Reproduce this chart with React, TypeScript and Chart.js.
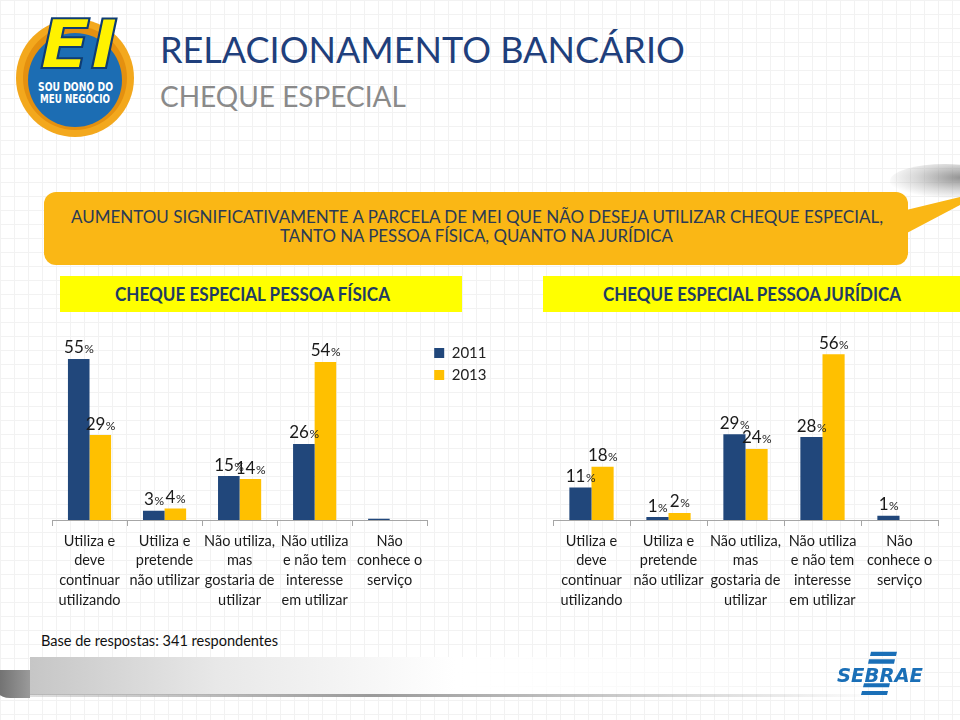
import React, { useEffect, useLayoutEffect, useRef } from "react";
import { Chart, registerables } from "chart.js";

Chart.register(...registerables);

// ---------- DATA ----------
const categories: string[][] = [
  ["Utiliza e", "deve", "continuar", "utilizando"],
  ["Utiliza e", "pretende", "não utilizar"],
  ["Não utiliza,", "mas", "gostaria de", "utilizar"],
  ["Não utiliza", "e não tem", "interesse", "em utilizar"],
  ["Não", "conhece o", "serviço"],
];
const seriesLabels = ["2011", "2013"];
const pfValues2011 = [55, 3.2, 15, 26, 0.4];
const pfValues2013 = [29, 3.9, 14, 54, 0];
const pjValues2011 = [11, 1, 29, 28, 1.4];
const pjValues2013 = [18, 2.4, 24, 56, 0];

const BLUE = "#21477B";
const ORANGE = "#FFC000";
const FONT = "Lato";

const valueLabelPlugin = {
  id: "valueLabels",
  afterDatasetsDraw(chart: any) {
    const ctx = chart.ctx;
    chart.data.datasets.forEach((ds: any, di: number) => {
      const meta = chart.getDatasetMeta(di);
      meta.data.forEach((bar: any, i: number) => {
        const v = ds.data[i];
        if (v == null || v < 0.5) return;
        const num = String(Math.round(v));
        ctx.save();
        ctx.fillStyle = "#1a1a1a";
        ctx.textBaseline = "alphabetic";
        ctx.font = `17px ${FONT}`;
        const w1 = ctx.measureText(num).width;
        ctx.font = `12px ${FONT}`;
        const w2 = ctx.measureText("%").width;
        const x0 = bar.x - (w1 + w2) / 2;
        const y = bar.y - 5.5;
        ctx.font = `17px ${FONT}`;
        ctx.textAlign = "left";
        ctx.fillText(num, x0, y);
        ctx.font = `12px ${FONT}`;
        ctx.fillText("%", x0 + w1 + 0.5, y);
        ctx.restore();
      });
    });
  },
};

function makeConfig(v11: number[], v13: number[], yMax: number, padding: any, showLegend: boolean): any {
  return {
    type: "bar",
    data: {
      labels: categories,
      datasets: [
        { label: seriesLabels[0], data: v11, backgroundColor: BLUE, categoryPercentage: 0.575, barPercentage: 1 },
        { label: seriesLabels[1], data: v13, backgroundColor: ORANGE, categoryPercentage: 0.575, barPercentage: 1 },
      ],
    },
    options: {
      responsive: false,
      animation: false,
      layout: { padding },
      plugins: {
        legend: {
          display: showLegend,
          position: "right",
          align: "start",
          labels: {
            boxWidth: 10,
            boxHeight: 10,
            padding: 7,
            color: "#222",
            font: { size: 15, family: FONT },
          },
        },
        tooltip: { enabled: false },
      },
      scales: {
        x: {
          grid: {
            display: true,
            drawOnChartArea: false,
            drawTicks: true,
            tickLength: 6,
            color: "#a6a6a6",
            offset: true,
          },
          border: { display: true, color: "#a6a6a6" },
          ticks: {
            color: "#1a1a1a",
            font: { size: 14.5, family: FONT, lineHeight: 1.36 },
            padding: 5,
            maxRotation: 0,
            autoSkip: false,
          },
          afterFit: (s: any) => {
            s.height = 95;
          },
        },
        y: { display: false, min: 0, max: yMax },
      },
    },
    plugins: [valueLabelPlugin],
  };
}

function BarChart(props: { left: number; top: number; width: number; height: number; config: any }) {
  const ref = useRef<HTMLCanvasElement>(null);
  useEffect(() => {
    if (!ref.current) return;
    const chart = new Chart(ref.current, props.config);
    return () => chart.destroy();
  }, []);
  return (
    <canvas
      ref={ref}
      width={props.width}
      height={props.height}
      style={{ position: "absolute", left: props.left, top: props.top, width: props.width, height: props.height }}
    />
  );
}

function FitText(props: {
  text: string;
  x: number;
  baseline: number;
  width: number;
  size: number;
  color: string;
  weight?: number;
}) {
  const ref = useRef<HTMLSpanElement>(null);
  useLayoutEffect(() => {
    const el = ref.current;
    if (!el) return;
    el.style.transform = "none";
    const w = el.getBoundingClientRect().width;
    if (w > 0) el.style.transform = `scaleX(${props.width / w})`;
  });
  return (
    <span
      ref={ref}
      style={{
        position: "absolute",
        left: props.x,
        top: props.baseline - 0.887 * props.size,
        whiteSpace: "nowrap",
        fontFamily: FONT,
        fontSize: props.size,
        lineHeight: `${props.size}px`,
        fontWeight: props.weight ?? 400,
        color: props.color,
        transformOrigin: "0 0",
      }}
    >
      {props.text}
    </span>
  );
}

export default function App() {
  return (
    <div
      style={{
        position: "absolute",
        left: 0,
        top: 0,
        width: 960,
        height: 720,
        overflow: "hidden",
        background: "#fff",
        backgroundImage:
          "linear-gradient(#f2f2f2 1px, transparent 1px), linear-gradient(90deg, #f2f2f2 1px, transparent 1px)",
        backgroundSize: "14px 14px",
        fontFamily: FONT,
      }}
    >
      {/* Logo top-left */}
      <svg style={{ position: "absolute", left: 0, top: 0 }} width={150} height={145}>
        <circle cx={75} cy={78} r={59} fill="#F3A81D" />
        <circle cx={75} cy={78} r={52} fill="#E4900F" />
        <circle cx={75} cy={80} r={47} fill="#1C6DB3" />
        <text
          x={40}
          y={68}
          fontFamily="DejaVu Sans"
          fontWeight="bold"
          fontStyle="italic"
          fontSize={68}
          fill="#FFF200"
          stroke="#0E3C74"
          strokeWidth={2}
          textLength={78}
          lengthAdjust="spacingAndGlyphs"
        >
          EI
        </text>
        <text x={38} y={91} fontFamily="DejaVu Sans" fontWeight="bold" fontSize={12} fill="#fff" textLength={75} lengthAdjust="spacingAndGlyphs">
          SOU DONO DO
        </text>
        <text x={40} y={103} fontFamily="DejaVu Sans" fontWeight="bold" fontSize={12} fill="#fff" textLength={70} lengthAdjust="spacingAndGlyphs">
          MEU NEGÓCIO
        </text>
      </svg>

      {/* Titles */}
      <span
        style={{
          position: "absolute",
          left: 160,
          top: 63 - 0.887 * 36,
          fontSize: 36,
          lineHeight: "36px",
          color: "#1F3F7C",
          whiteSpace: "nowrap",
        }}
      >
        RELACIONAMENTO BANCÁRIO
      </span>
      <span
        style={{
          position: "absolute",
          left: 160,
          top: 106.5 - 0.887 * 28,
          fontSize: 28,
          lineHeight: "28px",
          color: "#8A8A8A",
          whiteSpace: "nowrap",
        }}
      >
        CHEQUE ESPECIAL
      </span>

      {/* Top-right shadow */}
      <div
        style={{
          position: "absolute",
          left: 890,
          top: 164,
          width: 110,
          height: 34,
          borderRadius: "50%",
          background: "radial-gradient(ellipse at 65% 40%, rgba(120,120,120,0.8) 0%, rgba(170,170,170,0.45) 45%, rgba(255,255,255,0) 75%)",
        }}
      />

      {/* Banner */}
      <svg style={{ position: "absolute", left: 0, top: 0 }} width={960} height={300}>
        <polygon points="898,212 960,197 960,205 905,234" fill="#FAB715" />
      </svg>
      <div
        style={{
          position: "absolute",
          left: 44,
          top: 192,
          width: 864,
          height: 73,
          borderRadius: 12,
          background: "#FAB715",
        }}
      />
      <FitText
        text="AUMENTOU SIGNIFICATIVAMENTE A PARCELA DE MEI QUE NÃO DESEJA UTILIZAR CHEQUE ESPECIAL,"
        x={70.7}
        baseline={223.3}
        width={812}
        size={17}
        color="#2A3A55"
      />
      <FitText
        text="TANTO NA PESSOA FÍSICA, QUANTO NA JURÍDICA"
        x={280}
        baseline={241.7}
        width={393}
        size={17}
        color="#2A3A55"
      />

      {/* Header boxes */}
      <div style={{ position: "absolute", left: 60, top: 276, width: 402, height: 36, background: "#FFFF00" }} />
      <div style={{ position: "absolute", left: 543, top: 276, width: 417, height: 36, background: "#FFFF00" }} />
      <FitText text="CHEQUE ESPECIAL PESSOA FÍSICA" x={115} baseline={301.7} width={275} size={18.6} weight={700} color="#1F3B63" />
      <FitText text="CHEQUE ESPECIAL PESSOA JURÍDICA" x={602.5} baseline={301.7} width={298} size={18.6} weight={700} color="#1F3B63" />

      {/* Charts */}
      <BarChart
        left={40}
        top={320}
        width={460}
        height={300}
        config={makeConfig(pfValues2011, pfValues2013, 62, { left: 12, right: 3.5, top: 18.5, bottom: 5 }, true)}
      />
      <BarChart
        left={520}
        top={320}
        width={440}
        height={300}
        config={makeConfig(pjValues2011, pjValues2013, 61.3, { left: 33, right: 22, top: 18.5, bottom: 5 }, false)}
      />

      {/* Footnote */}
      <FitText text="Base de respostas: 341 respondentes" x={40.7} baseline={646.7} width={237} size={15.5} color="#111" />

      {/* Bottom decoration */}
      <div
        style={{
          position: "absolute",
          left: 30,
          top: 657,
          width: 850,
          height: 38,
          background: "linear-gradient(to right, #c6c6c6 0%, #e8e8e8 22%, #ffffff 50%, rgba(255,255,255,0) 100%)",
        }}
      />
      <div
        style={{
          position: "absolute",
          left: 30,
          top: 694,
          width: 850,
          height: 3,
          background: "linear-gradient(to right, rgba(150,150,150,0.3), #9a9a9a 40%, rgba(190,190,190,0.4) 85%, rgba(255,255,255,0))",
        }}
      />
      <div
        style={{
          position: "absolute",
          left: -10,
          top: 670,
          width: 40,
          height: 28,
          borderRadius: "0 0 0 20px",
          background: "linear-gradient(to right, #666, #9a9a9a)",
        }}
      />

      {/* SEBRAE logo */}
      <svg style={{ position: "absolute", left: 0, top: 0 }} width={960} height={720}>
        <polygon points="871,651.7 897,651.7 896,656 870,656" fill="#1A6FB7" />
        <polygon points="869,659.3 895,659.3 894,663.7 868,663.7" fill="#1A6FB7" />
        <polygon points="864,683.3 890,683.3 889,687.3 863,687.3" fill="#1A6FB7" />
        <polygon points="862,691 888,691 887,695 861,695" fill="#1A6FB7" />
        <text
          x={837}
          y={681.7}
          fontFamily="DejaVu Sans"
          fontWeight="bold"
          fontStyle="italic"
          fontSize={19}
          fill="#1A6FB7"
          textLength={86}
          lengthAdjust="spacingAndGlyphs"
        >
          SEBRAE
        </text>
      </svg>
    </div>
  );
}
